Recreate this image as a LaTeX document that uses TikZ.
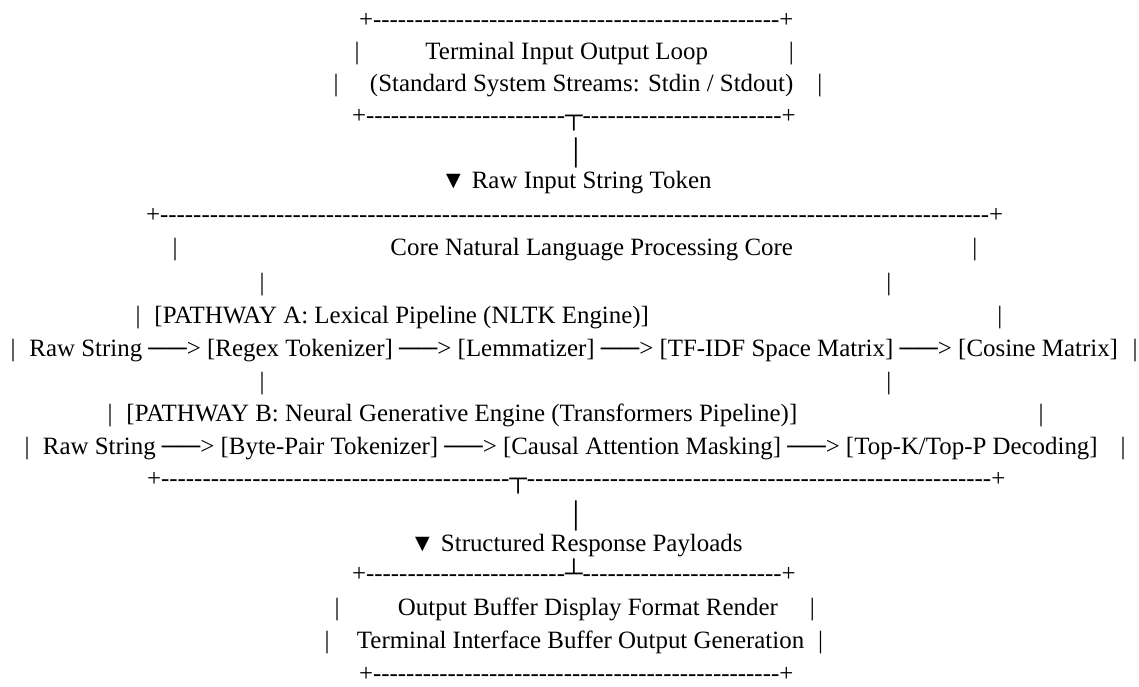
\documentclass[tikz,border=0pt]{standalone}
\usepackage{fontspec}
\usepackage{graphicx}
\setmainfont{Liberation Serif}[Ligatures=TeXOff]
\newcommand\hyph[1]{\foreach\k in {1,...,#1}{-}}
\newcommand\gap[1]{\hspace*{#1pt}}
\newcommand\arr{\scalebox{1.09}[1]{──}>}
\begin{document}
\begin{tikzpicture}[x=1pt,y=-1pt,
  txt/.style={inner sep=0pt, outer sep=0pt, anchor=base west, font=\fontsize{24.9}{30}\selectfont},
  txtc/.style={txt, anchor=base},
  txte/.style={txt, anchor=base east}]
\useasboundingbox (0,0) rectangle (1139,686);
\fill[white] (0,0) rectangle (1139,686);
% top box
\node[txt] (t1) at (359,27) {+\hyph{49}+};
\node[txt] (t2) at (354.5,59) {|\gap{66}Terminal Input Output Loop\gap{81}|};
\node[txt] (t3) at (333.5,91) {|\gap{31.5}(Standard System Streams: Stdin / Stdout)\gap{24}|};
\node[txt] (t4) at (352,123) {+\hyph{24}┬\hyph{24}+};
\node[txtc] (t5) at (576,160) {│};
\node[txte] (t6) at (711.5,188) {▼ Raw Input String Token};
% core box
\node[txt] (t7) at (146,222) {+\hyph{100}+};
\node[txt] (t8) at (172.5,255) {|\gap{213}Core Natural Language Processing Core\gap{179.5}|};
\node[txt] (t9) at (259.5,290) {|\gap{622}|};
\node[txt] (t10) at (135.5,323) {|\gap{14}[PATHWAY A: Lexical Pipeline (NLTK Engine)]\gap{348.5}|};
\node[txt] (t11) at (10.5,356) {|\gap{14}Raw String \arr{} [Regex Tokenizer] \arr{} [Lemmatizer] \arr{} [TF-IDF Space Matrix] \arr{} [Cosine Matrix]};
\node[txtc] (t11r) at (1135,356) {|};
\node[txt] (t12) at (259.5,389) {|\gap{622}|};
\node[txt] (t13) at (107.5,421) {|\gap{14}[PATHWAY B: Neural Generative Engine (Transformers Pipeline)]};
\node[txtc] (t13r) at (1041,421) {|};
\node[txt] (t14) at (24.5,454) {|\gap{13.5}Raw String \arr{} [Byte-Pair Tokenizer] \arr{} [Causal Attention Masking] \arr{} [Top-K/Top-P Decoding]};
\node[txtc] (t14r) at (1123,454) {|};
\node[txt] (t15) at (147,486) {+\hyph{42}┬\hyph{56}+};
\node[txtc] (t16) at (576,523) {│};
\node[txte] (t17) at (742.5,551) {▼ Structured Response Payloads};
% bottom box
\node[txt] (t18) at (352,581) {+\hyph{24}┴\hyph{24}+};
\node[txt] (t19) at (334.5,615) {|\gap{58.5}Output Buffer Display Format Render\gap{32}|};
\node[txt] (t20) at (324.5,648) {|\gap{27.5}Terminal Interface Buffer Output Generation\gap{14}|};
\node[txt] (t21) at (359,681) {+\hyph{49}+};
\end{tikzpicture}
\end{document}
